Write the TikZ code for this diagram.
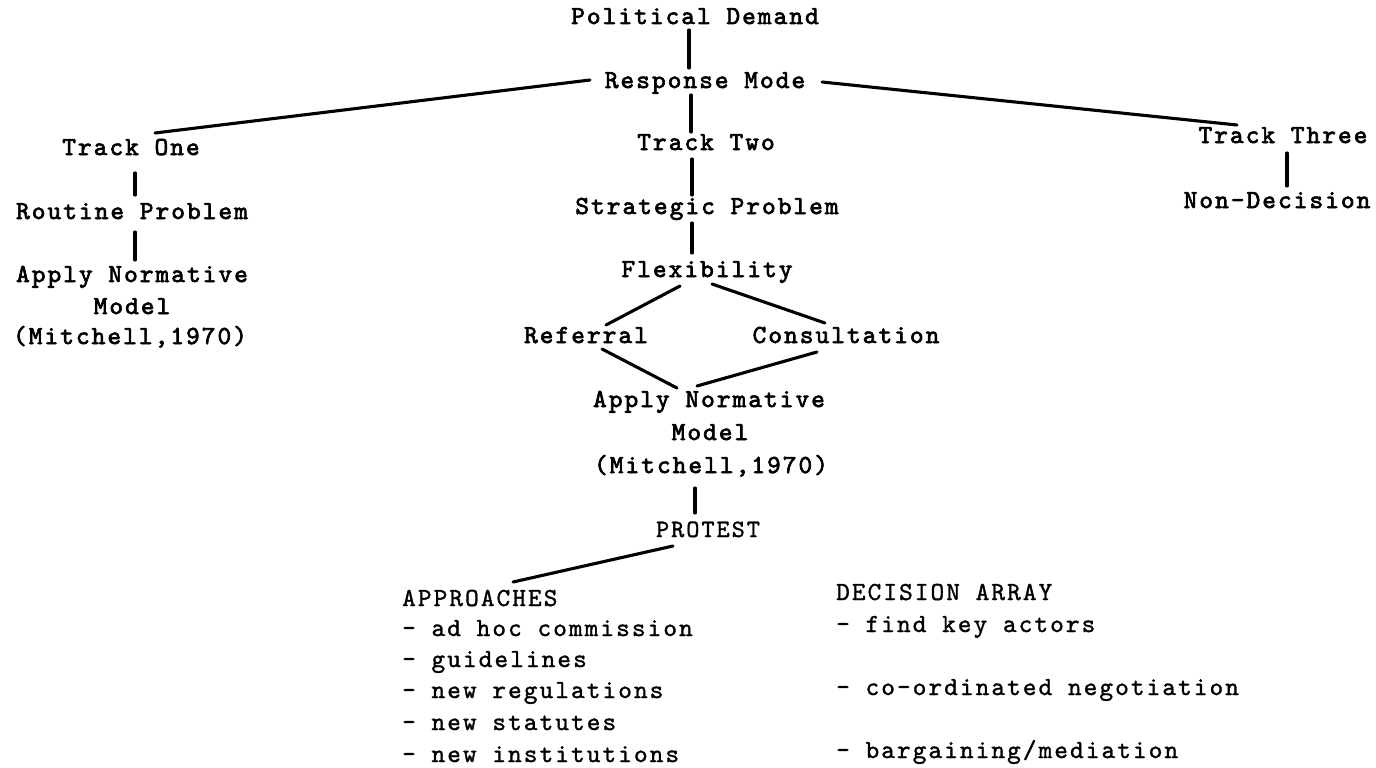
\documentclass[tikz,border=0pt]{standalone}
\usepackage{fontspec}
\usetikzlibrary{calc}
% slab-serif typewriter faces: a darker one for the tree, a lighter one for the lists
\newfontfamily\heavytype{lmmono10-regular}[Extension=.otf,LetterSpace=8,FakeBold=2.6]
\newfontfamily\lighttype{lmmono10-regular}[Extension=.otf,LetterSpace=8,FakeBold=1.2]
\begin{document}
\begin{tikzpicture}[x=1pt,y=-1pt,
  lbl/.style={inner sep=0pt,anchor=base,font=\heavytype\fontsize{26}{30}\selectfont},
  lst/.style={inner sep=0pt,anchor=base west,font=\lighttype\fontsize{26}{30}\selectfont},
  link/.style={line width=3.1pt,line cap=round}]
\fill[white] (0,0) rectangle (1376,768);
\useasboundingbox (0,0) rectangle (1376,768);

% decision tree
\node[lbl] (pd)  at (695,24)  {Political Demand};
\node[lbl] (rm)  at (705,88)  {Response Mode};
\node[lbl] (t1)  at (131,155) {Track One};
\node[lbl] (t2)  at (706,150) {Track Two};
\node[lbl] (t3)  at (1283,143) {Track Three};
\node[lbl] (rp)  at (132,219) {Routine Problem};
\node[lbl] (sp)  at (707,214) {Strategic Problem};
\node[lbl] (nd)  at (1277,208) {Non-Decision};
\node[lbl] (an1) at (132,282) {Apply Normative};
\node[lbl] (mo1) at (132,314) {Model};
\node[lbl] (mi1) at (130,344) {(Mitchell,1970)};
\node[lbl] (fl)  at (707,277) {Flexibility};
\node[lbl] (rf)  at (586,343) {Referral};
\node[lbl] (co)  at (846,343) {Consultation};
\node[lbl] (an2) at (709,407) {Apply Normative};
\node[lbl] (mo2) at (710,440) {Model};
\node[lbl] (mi2) at (711,473) {(Mitchell,1970)};
\node[lbl,font=\lighttype\fontsize{25}{30}\selectfont] (pr) at (708,537) {PROTEST};

% approaches column
\node[lst] (ap)  at (402,606) {APPROACHES};
\node[lst] (ap1) at (402,636) {- ad hoc commission};
\node[lst] (ap2) at (402,667) {- guidelines};
\node[lst] (ap3) at (402,698) {- new regulations};
\node[lst] (ap4) at (402,730) {- new statutes};
\node[lst] (ap5) at (402,762) {- new institutions};

% decision array column
\node[lst] (da)  at (836,600) {DECISION ARRAY};
\node[lst] (da1) at (836,632) {- find key actors};
\node[lst] (da2) at (836,695) {- co-ordinated negotiation};
\node[lst] (da3) at (836,758) {- bargaining/mediation};

% connectors
\draw[link] ($(pd.base)+(-6,6)$)    -- ($(rm.base)+(-16,-20)$);
\draw[link] ($(rm.base)+(-115,-8)$) -- ($(t1.base)+(24,-22)$);
\draw[link] ($(rm.base)+(117,-6)$)  -- ($(t3.base)+(-46,-18)$);
\draw[link] ($(rm.base)+(-14,7)$)   -- ($(t2.base)+(-15,-18)$);
\draw[link] ($(t1.base)+(4,18)$)    -- ($(rp.base)+(3,-24)$);
\draw[link] ($(rp.base)+(3,13)$)    -- ($(an1.base)+(3,-22)$);
\draw[link] ($(t2.base)+(-14,9)$)   -- ($(sp.base)+(-15,-19)$);
\draw[link] ($(sp.base)+(-15,9)$)   -- ($(fl.base)+(-15,-24)$);
\draw[link] ($(t3.base)+(4,10)$)    -- ($(nd.base)+(10,-22)$);
\draw[link] ($(fl.base)+(-27,9)$)   -- ($(rf.base)+(20,-18)$);
\draw[link] ($(fl.base)+(5,7)$)     -- ($(co.base)+(-21,-20)$);
\draw[link] ($(rf.base)+(16,6)$)    -- ($(an2.base)+(-32,-19)$);
\draw[link] ($(co.base)+(-29,9)$)   -- ($(an2.base)+(-12,-21)$);
\draw[link] ($(mi2.base)+(-16,15)$) -- ($(pr.base)+(-13,-24)$);
\draw[link] ($(pr.base)+(-35,9)$)   -- ($(ap.base west)+(111,-24)$);
\end{tikzpicture}
\end{document}
